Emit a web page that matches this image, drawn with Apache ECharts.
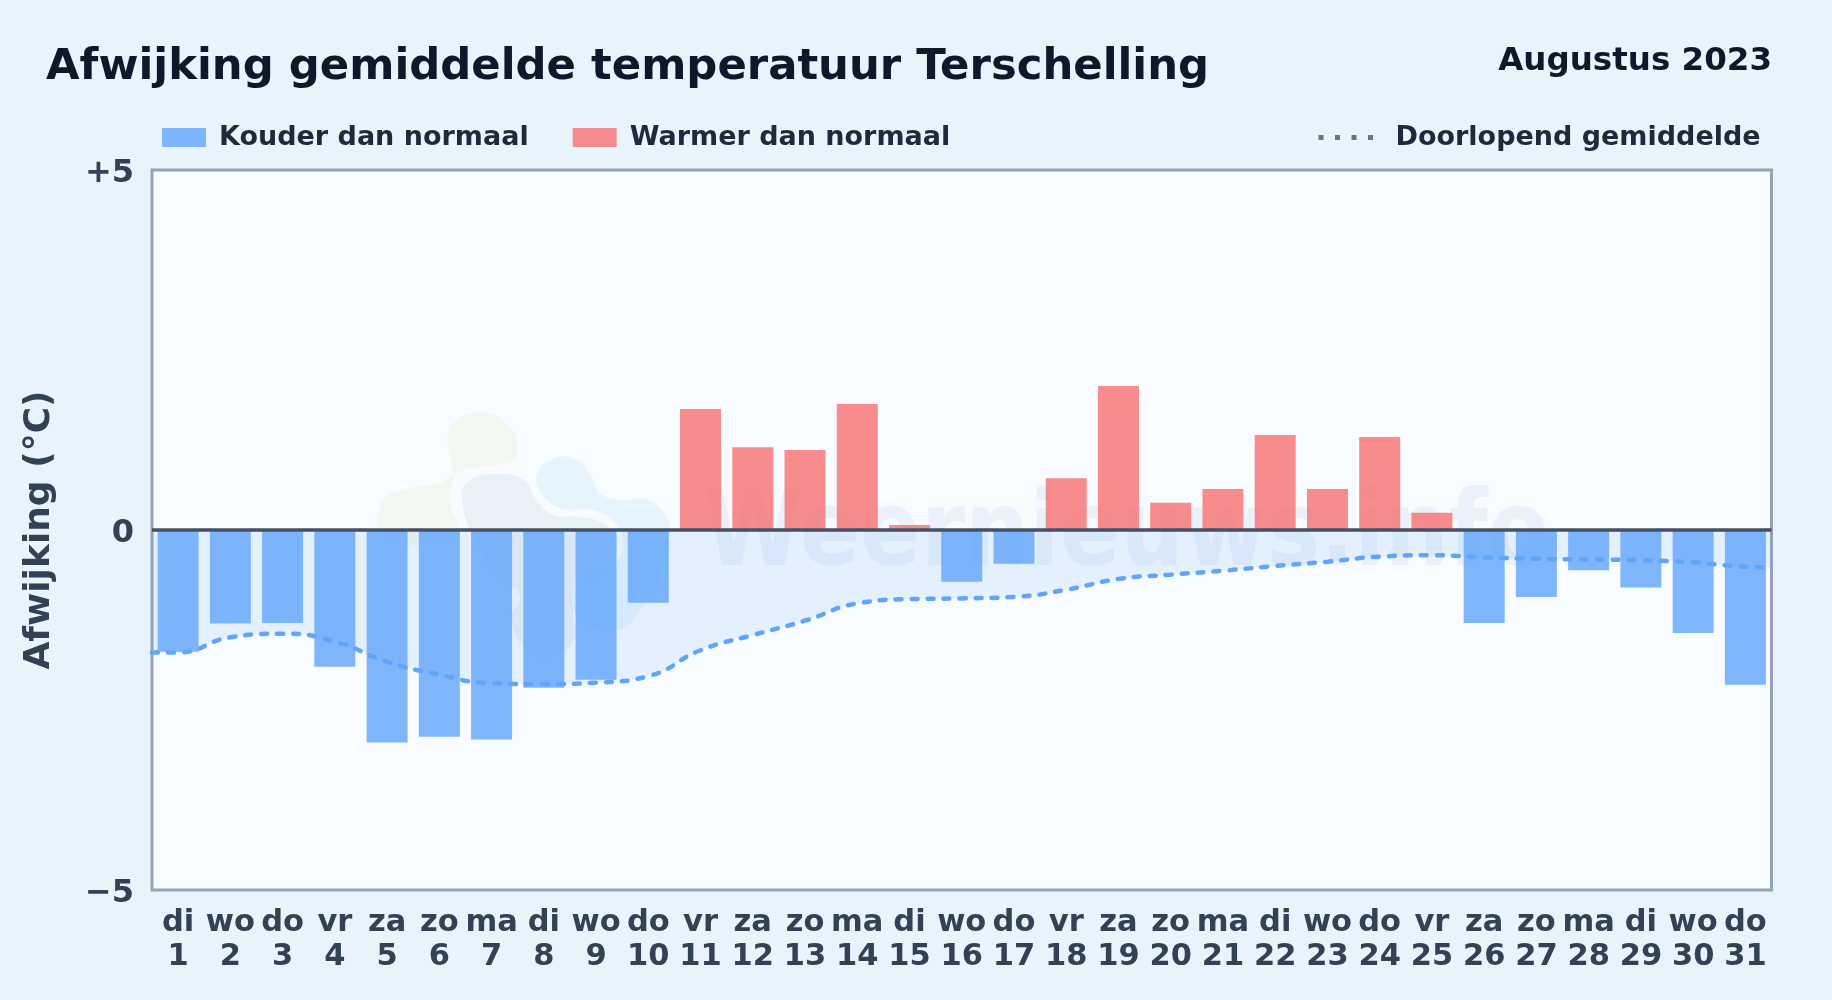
<!DOCTYPE html>
<html><head><meta charset="utf-8">
<style>html,body{margin:0;padding:0;background:#e9f3fc}#c{width:1832px;height:1000px}</style>
<script src="https://cdn.jsdelivr.net/npm/echarts@6/dist/echarts.min.js"></script>
</head><body><div id="c"></div>
<script>
var weekdays = ['di','wo','do','vr','za','zo','ma','di','wo','do','vr','za','zo','ma','di','wo','do','vr','za','zo','ma','di','wo','do','vr','za','zo','ma','di','wo','do'];
var days = [1,2,3,4,5,6,7,8,9,10,11,12,13,14,15,16,17,18,19,20,21,22,23,24,25,26,27,28,29,30,31];
var deviation = [-1.69,-1.30,-1.29,-1.90,-2.95,-2.87,-2.91,-2.19,-2.08,-1.01,1.68,1.15,1.11,1.75,0.07,-0.72,-0.47,0.72,2.00,0.38,0.57,1.32,0.57,1.29,0.24,-1.29,-0.93,-0.56,-0.80,-1.43,-2.15];
var runningAvg = [-1.70,-1.49,-1.44,-1.55,-1.83,-2.01,-2.13,-2.14,-2.12,-2.03,-1.67,-1.46,-1.26,-1.02,-0.96,-0.95,-0.93,-0.83,-0.68,-0.62,-0.565,-0.50,-0.44,-0.37,-0.35,-0.38,-0.40,-0.41,-0.42,-0.45,-0.51];
var avgStart = [0.5,-1.70], avgEnd = [31.5,-0.52];
var yTicks = {'5':'+5','0':'0','-5':'\u22125'};
var FONT = '"DejaVu Sans"';

var categories = days.map(function(d,i){return weekdays[i]+'\n'+d;});
var colder = deviation.map(function(v){return v<0?v:null;});
var warmer = deviation.map(function(v){return v>=0?v:null;});
var avgPoints = [avgStart].concat(days.map(function(d,i){return [d,runningAvg[i]];}),[avgEnd]);

function blob(pts,fill){return {type:'polygon',z:1,silent:true,shape:{points:pts,smooth:0.45},style:{fill:fill}};}
function z5(a){return a.map(function(p){return [360+p[0]/3,400+p[1]/3];});}

var chart = echarts.init(document.getElementById('c'),null,{renderer:'canvas'});
chart.setOption({
  animation:false,
  backgroundColor:'#e9f3fc',
  textStyle:{fontFamily:FONT},
  title:[
    {text:'Afwijking gemiddelde temperatuur Terschelling',left:46,top:46,padding:0,textStyle:{fontFamily:FONT,fontWeight:'bold',fontSize:43.35,color:'#0f172a'}},
    {text:'Augustus 2023',right:60,top:45,padding:0,textStyle:{fontFamily:FONT,fontWeight:'bold',fontSize:32.5,color:'#0f172a'}}
  ],
  legend:[
    {left:162,top:124,padding:0,itemWidth:44,itemHeight:19,itemGap:44,selectedMode:false,
     data:['Kouder dan normaal','Warmer dan normaal'],icon:'rect',
     textStyle:{fontFamily:FONT,fontWeight:'bold',fontSize:27,color:'#1e293b',padding:[2,0,0,8]}},
    {left:1316,top:124,padding:0,itemWidth:55,itemHeight:19,selectedMode:false,
     data:[{name:'Doorlopend gemiddelde',itemStyle:{color:'transparent',opacity:0},lineStyle:{color:'#64748b',width:5,type:[5,11.5],cap:'butt'}}],
     textStyle:{fontFamily:FONT,fontWeight:'bold',fontSize:27,color:'#1e293b',padding:[2,0,0,17]}}
  ],
  grid:{left:152,right:60.5,top:170,bottom:110,outerBoundsMode:'none',show:true,backgroundColor:'#f8fbff',borderColor:'#94a3b8',borderWidth:3},
  xAxis:[
    {type:'category',data:categories,axisLine:{show:false},axisTick:{show:false},splitLine:{show:false},
     axisLabel:{interval:0,margin:16,fontFamily:FONT,fontWeight:'bold',fontSize:30.5,lineHeight:34,color:'#334155',align:'center'}},
    {type:'value',min:0.5,max:31.5,show:false,splitLine:{show:false}}
  ],
  yAxis:{type:'value',min:-5,max:5,interval:5,splitLine:{show:false},axisLine:{show:false},axisTick:{show:false},
    name:'Afwijking (\u00b0C)',nameLocation:'middle',nameGap:94,nameRotate:90,
    nameTextStyle:{fontFamily:FONT,fontWeight:'bold',fontSize:36,color:'#334155'},
    axisLabel:{margin:18,fontFamily:FONT,fontWeight:'bold',fontSize:32,color:'#334155',verticalAlign:'top',padding:[-12.5,0,0,0],
      formatter:function(v){return yTicks[String(v)];}}},
  graphic:{elements:[
    blob(z5([[265,100],[300,55],[370,38],[440,70],[472,130],[460,180],[400,195],[330,205],[270,230],[235,250],[150,265],[80,290],[55,340],[65,395],[120,430],[200,430],[290,390],[268,300],[280,230]]),'rgba(170,215,60,0.07)'),
    blob(z5([[305,290],[330,240],[410,222],[490,240],[530,300],[580,345],[650,350],[720,365],[762,405],[765,465],[715,520],[640,560],[640,650],[635,730],[560,770],[490,740],[455,650],[480,590],[430,540],[350,430]]),'rgba(30,100,150,0.07)'),
    blob(z5([[530,230],[570,180],[640,175],[690,220],[720,280],[790,300],[860,298],[920,350],[930,400],[900,530],[840,630],[780,690],[700,680],[640,630],[630,580],[680,530],[770,480],[790,420],[760,365],[700,330],[600,325],[545,280]]),'rgba(0,150,245,0.07)'),
    {type:'text',z:1,silent:true,x:704,y:590,scaleX:0.845,originX:0,originY:0,style:{text:'Weernieuws.info',font:'bold 106px "DejaVu Sans"',fill:'rgba(40,110,190,0.065)',textVerticalAlign:'bottom'}}
  ]},
  series:[
    {name:'Kouder dan normaal',type:'bar',data:colder,barWidth:41,stack:'d',z:3,itemStyle:{color:'rgba(96,165,250,0.8)'},
     markLine:{silent:true,symbol:'none',label:{show:false},lineStyle:{type:'solid',color:'#445064',width:3.5},data:[{yAxis:0}],z:6}},
    {name:'Warmer dan normaal',type:'bar',data:warmer,barWidth:41,stack:'d',z:3,itemStyle:{color:'rgba(248,113,113,0.8)'}},
    {name:'Doorlopend gemiddelde',type:'line',xAxisIndex:1,data:avgPoints,z:5,symbol:'none',smooth:0.5,
     lineStyle:{color:'#60a5fa',width:4.5,type:[6,10],cap:'round'},itemStyle:{color:'#60a5fa'},
     areaStyle:{color:'rgba(96,165,250,0.18)'}}
  ]
});
</script></body></html>
